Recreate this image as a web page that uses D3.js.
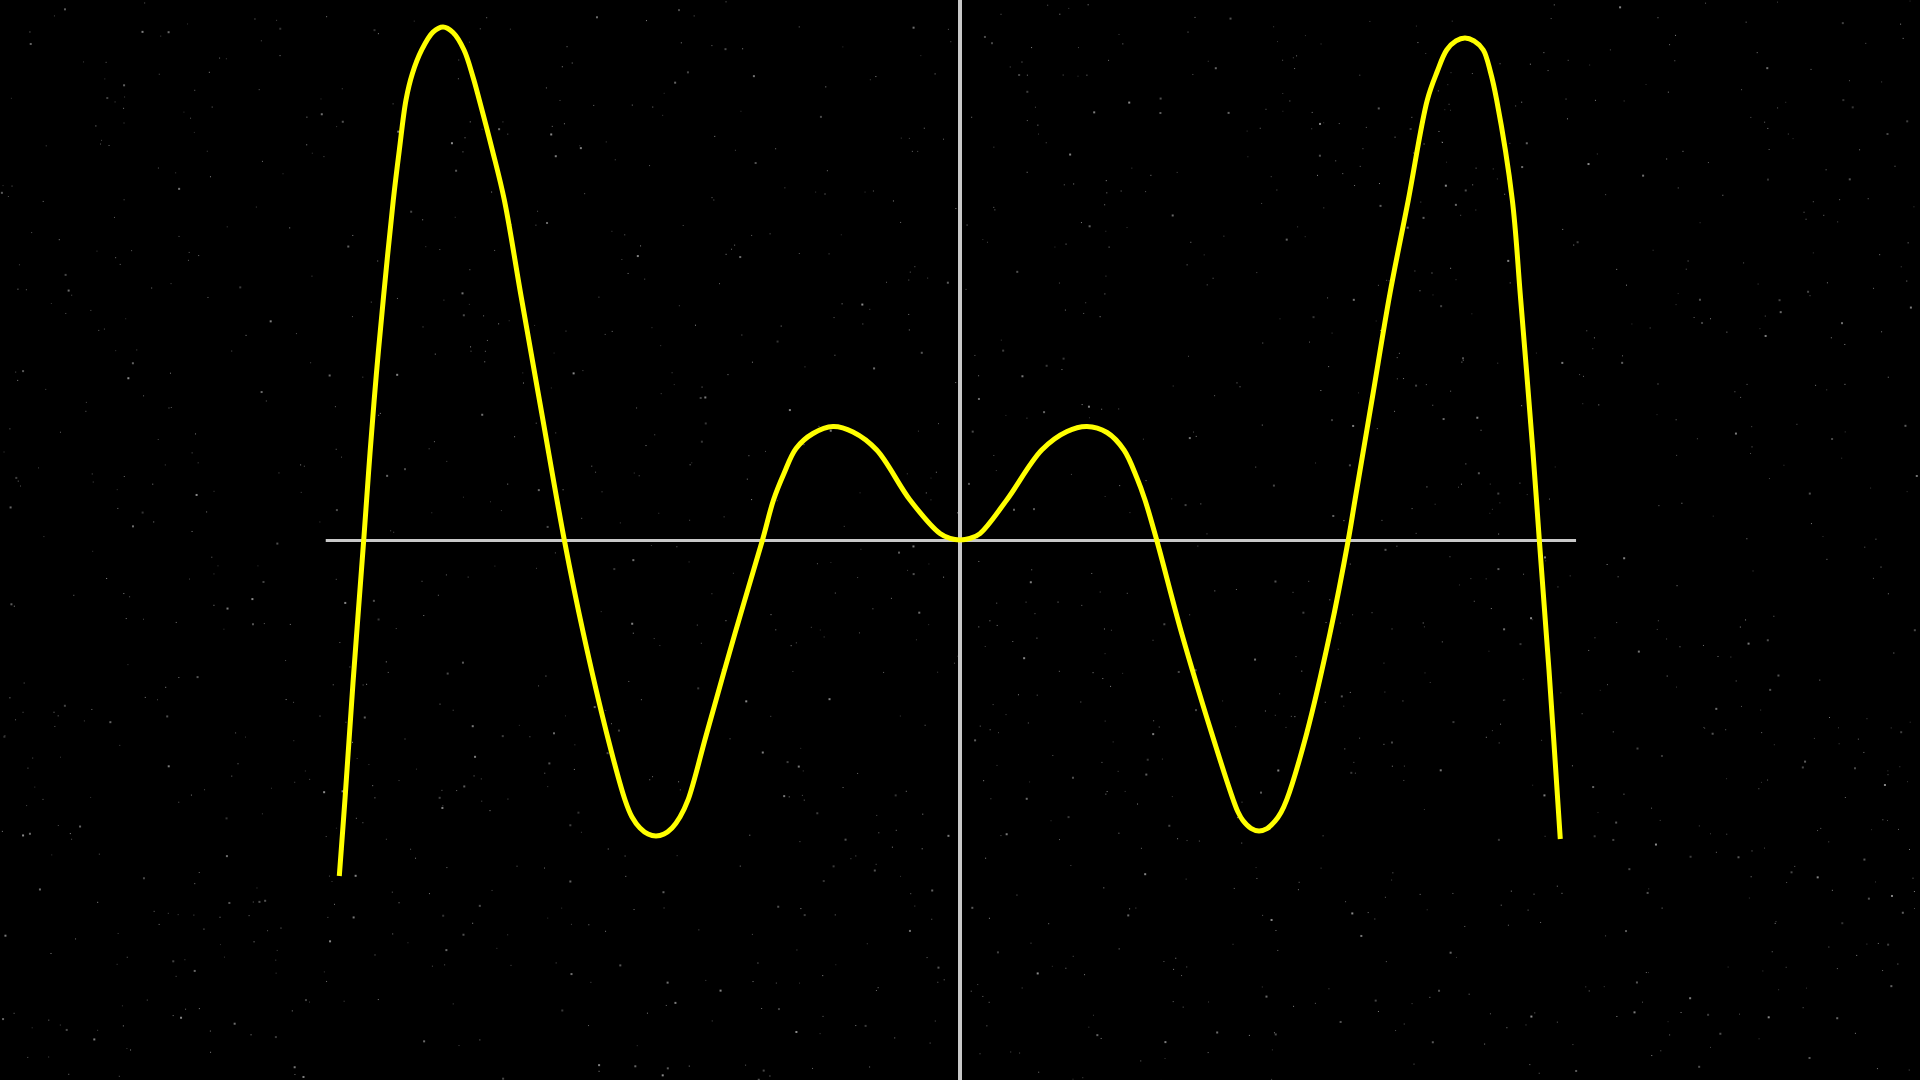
<!DOCTYPE html>
<html>
<head>
<meta charset="utf-8">
<script src="https://cdn.jsdelivr.net/npm/d3@7"></script>
<style>
  html, body { margin: 0; padding: 0; background: #000; overflow: hidden; }
  svg { display: block; }
</style>
</head>
<body>
<svg id="chart" width="1920" height="1080"></svg>
<script>
// ---- data (x, y in plot units) ----
const curveX = [-9.884, -9.791, -9.666, -9.495, -9.395, -9.295, -9.180, -9.024, -8.928, -8.822,
  -8.721, -8.572, -8.392, -8.232, -8.073, -7.898, -7.755, -7.654, -7.447, -7.256,
  -6.987, -6.656, -6.301, -5.998, -5.626, -5.334, -5.223, -5.096, -4.968, -4.841,
  -4.713, -4.586, -4.459, -4.331, -4.033, -3.583, -3.145, -2.970, -2.803, -2.611,
  -2.341, -2.022, -1.704, -1.326, -0.796, -0.318, -0.159, 0, 0.159, 0.318,
  0.744, 1.301, 1.704, 2.022, 2.341, 2.611, 2.818, 2.946, 3.132, 3.530,
  4.008, 4.352, 4.427, 4.506, 4.634, 4.761, 4.888, 5.016, 5.111, 5.202,
  5.521, 5.892, 6.183, 6.290, 6.568, 6.847, 7.139, 7.441, 7.596, 7.750,
  7.898, 8.041, 8.185, 8.333, 8.447, 8.546, 8.795, 8.925, 9.119, 9.225,
  9.379, 9.559];
const curveY = [-5.350, -4.092, -2.277, 0, 1.385, 2.627, 3.869, 5.414, 6.210, 7.006,
  7.424, 7.803, 8.086, 8.169, 8.081, 7.803, 7.374, 7.006, 6.210, 5.414,
  3.869, 1.994, 0, -1.486, -3.078, -4.140, -4.411, -4.586, -4.682, -4.713,
  -4.682, -4.586, -4.411, -4.140, -3.078, -1.486, 0, 0.637, 1.059, 1.457,
  1.696, 1.807, 1.720, 1.433, 0.637, 0.102, 0.025, 0, 0.025, 0.102,
  0.637, 1.433, 1.728, 1.807, 1.712, 1.433, 0.987, 0.637, 0, -1.486,
  -3.078, -4.140, -4.331, -4.467, -4.592, -4.634, -4.596, -4.478, -4.339, -4.140,
  -3.078, -1.486, 0, 0.637, 2.277, 3.928, 5.414, 7.006, 7.452, 7.803,
  7.947, 7.994, 7.947, 7.803, 7.452, 7.006, 5.414, 3.869, 1.465, 0,
  -2.070, -4.761];
const xAxisExtent = [-10.1, 9.81];
const xDomain = [-15.287, 15.287];
const yDomain = [-8.599, 8.599];

const W = 1920, H = 1080;
const svg = d3.select("#chart");
svg.append("rect").attr("width", W).attr("height", H).attr("fill", "#000");

const x = d3.scaleLinear().domain(xDomain).range([0, W]);
const y = d3.scaleLinear().domain(yDomain).range([H, 0]);

// faint decorative star specks (seeded, deterministic texture)
function mulberry32(a) {
  return function() {
    a |= 0; a = a + 0x6D2B79F5 | 0;
    let t = Math.imul(a ^ a >>> 15, 1 | a);
    t = t + Math.imul(t ^ t >>> 7, 61 | t) ^ t;
    return ((t ^ t >>> 14) >>> 0) / 4294967296;
  };
}
const rng = mulberry32(12345);
const stars = d3.range(1700).map(() => ({
  px: rng() * W, py: rng() * H, s: rng() < 0.8 ? 1 : 2, g: 50 + Math.floor(rng() * 90)
}));
svg.append("g").selectAll("rect").data(stars).join("rect")
  .attr("x", d => d.px).attr("y", d => d.py)
  .attr("width", d => d.s).attr("height", d => d.s)
  .attr("fill", d => `rgb(${d.g},${d.g},${d.g})`);

// axes
svg.append("line")
  .attr("x1", x(xAxisExtent[0])).attr("x2", x(xAxisExtent[1]))
  .attr("y1", y(0) + 0.5).attr("y2", y(0) + 0.5)
  .attr("stroke", "#c8c8c8").attr("stroke-width", 3);
svg.append("line")
  .attr("x1", x(0)).attr("x2", x(0))
  .attr("y1", y(yDomain[1])).attr("y2", y(yDomain[0]))
  .attr("stroke", "#c8c8c8").attr("stroke-width", 4);

// curve
const pts = curveX.map((v, i) => [v, curveY[i]]);
const line = d3.line().x(d => x(d[0])).y(d => y(d[1])).curve(d3.curveCatmullRom.alpha(0.5));
svg.append("path").datum(pts)
  .attr("d", line)
  .attr("fill", "none")
  .attr("stroke", "#ffff00")
  .attr("stroke-width", 5)
  .attr("stroke-linecap", "butt")
  .attr("stroke-linejoin", "round");
</script>
</body>
</html>
